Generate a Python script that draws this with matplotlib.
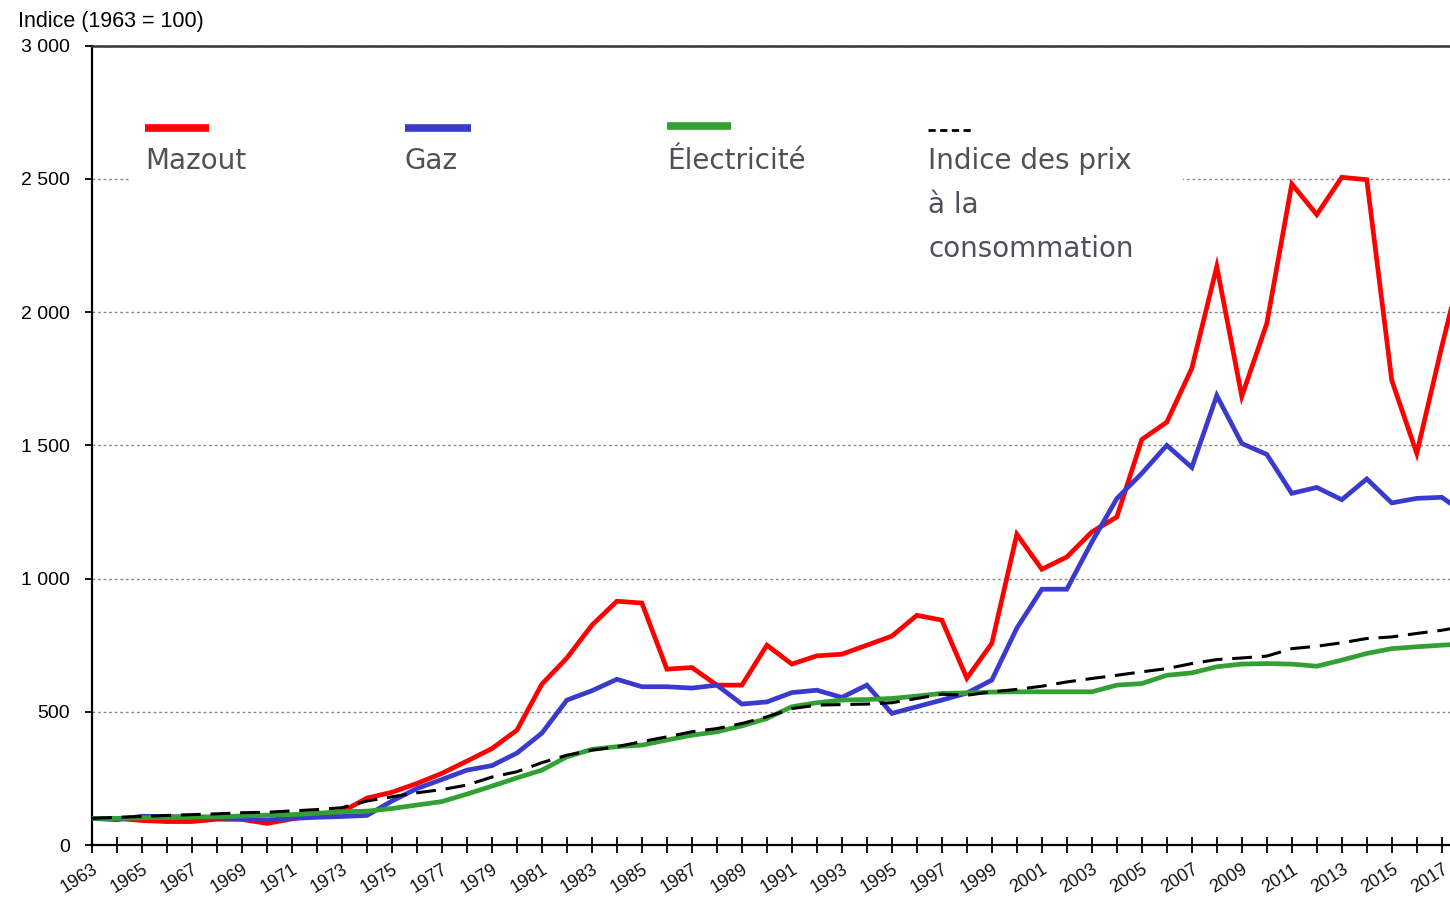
import matplotlib
matplotlib.use("Agg")
import matplotlib.pyplot as plt
from matplotlib.lines import Line2D
from matplotlib.patches import Rectangle

# ---------------- data ----------------
years = list(range(1963, 2019))

mazout = [100, 100, 92, 88, 88, 97, 96, 81, 98, 112, 125, 176, 198, 231, 269, 315, 362,
          431, 604, 702, 825, 915, 908, 660, 666, 600, 600, 750, 679, 710, 716, 750,
          784, 862, 844, 626, 757, 1166, 1035, 1081, 1175, 1231, 1522, 1587, 1789, 2171,
          1684, 1957, 2481, 2366, 2506, 2497, 1744, 1470, 1870, 2250]

gaz = [100, 95, 108, 106, 106, 102, 98, 94, 100, 104, 107, 111, 165, 212, 246, 281, 298,
       345, 420, 544, 579, 622, 594, 594, 589, 600, 529, 537, 572, 581, 554, 600,
       494, 519, 544, 570, 619, 814, 960, 960, 1137, 1300, 1395, 1500, 1417, 1687,
       1507, 1466, 1320, 1342, 1296, 1374, 1284, 1301, 1305, 1240]

electricite = [100, 100, 102, 104, 105, 106, 109, 112, 114, 119, 125, 127, 137, 150, 163,
               191, 221, 252, 281, 331, 359, 369, 375, 394, 412, 425, 447, 475, 519, 534,
               544, 546, 550, 559, 569, 571, 574, 575, 575, 575, 575, 600, 606, 637, 646,
               669, 679, 681, 679, 671, 694, 719, 737, 744, 750, 755]

ipc = [100, 104, 107, 111, 114, 117, 121, 123, 128, 133, 140, 165, 181, 196, 208, 225,
       255, 275, 309, 337, 356, 369, 388, 406, 425, 437, 456, 481, 512, 525, 527, 529,
       534, 550, 566, 562, 575, 584, 596, 612, 625, 637, 650, 662, 681, 696, 702, 709,
       737, 746, 759, 775, 781, 794, 806, 822]

tick_years = list(range(1963, 2018))
tick_labels = [str(y) if (y - 1963) % 2 == 0 else "" for y in tick_years]
y_ticks = [0, 500, 1000, 1500, 2000, 2500, 3000]
y_labels = ["0", "500", "1 000", "1 500", "2 000", "2 500", "3 000"]

series_names = ["Mazout", "Gaz", "Électricité", "Indice des prix\nà la\nconsommation"]
colors = ["#ff0000", "#3a3acc", "#33a033", "#000000"]

# ---------------- figure ----------------
W, H = 1450, 897
fig = plt.figure(figsize=(W / 100, H / 100), dpi=100)
ax = fig.add_axes([92 / W, (H - 845) / H, (W - 92) / W, (845 - 45.7) / H])

def fx(px):
    return px / W

def fy(py):
    return 1 - py / H

ax.plot(years, mazout, color=colors[0], lw=3.4, zorder=3, solid_joinstyle="miter")
ax.plot(years, gaz, color=colors[1], lw=3.4, zorder=4, solid_joinstyle="miter")
ax.plot(years, electricite, color=colors[2], lw=3.4, zorder=4.5)
ax.plot(years, ipc, color=colors[3], lw=2.2, zorder=5, dashes=(6.5, 3.2))

ax.set_xlim(1963, 1963 + (W - 92.3) / 24.99)
ax.set_ylim(0, 3000)

ax.set_xticks(tick_years)
ax.set_xticklabels(tick_labels, rotation=32, ha="right", rotation_mode="anchor",
                   fontsize=13, family="Liberation Sans", color="#111111")
ax.tick_params(axis="x", direction="inout", length=11, width=1.3, pad=6)

ax.set_yticks(y_ticks)
ax.set_yticklabels(y_labels, fontsize=14, family="Liberation Sans")
ax.tick_params(axis="y", direction="out", length=5, width=1.3, pad=11)

ax.set_axisbelow(True)
ax.yaxis.grid(True, color="#8a8a8a", lw=1.0, dashes=(2, 2))
ax.xaxis.grid(False)

for s in ["left", "bottom"]:
    ax.spines[s].set_linewidth(1.6)
    ax.spines[s].set_color("black")
ax.spines["top"].set_linewidth(1.8)
ax.spines["top"].set_color("#333333")
ax.spines["right"].set_visible(False)

# white box behind the legend
rect = Rectangle((fx(130), fy(275)), fx(1183) - fx(130), fy(95) - fy(275),
                 transform=fig.transFigure, facecolor="white", edgecolor="none", zorder=1)
ax.add_patch(rect)

# legend (manual, Excel style)
leg_x = [145, 405, 667, 928]
leg_w = [64, 66, 64, 45]
leg_y = [128, 128, 126, 130]
for i in range(3):
    fig.add_artist(Line2D([fx(leg_x[i]), fx(leg_x[i] + leg_w[i])], [fy(leg_y[i]), fy(leg_y[i])],
                          color=colors[i], lw=5.5, solid_capstyle="butt",
                          transform=fig.transFigure))
fig.add_artist(Line2D([fx(leg_x[3]), fx(leg_x[3] + leg_w[3])], [fy(leg_y[3]), fy(leg_y[3])],
                      color="black", lw=2.0, dashes=(2.6, 1.6), dash_capstyle="butt",
                      transform=fig.transFigure))

txt_kw = dict(fontsize=20, family="DejaVu Sans", color="#505058", va="center", ha="left")
for i in range(3):
    fig.text(fx(leg_x[i]), fy(161), series_names[i], **txt_kw)
for j, line in enumerate(series_names[3].split("\n")):
    fig.text(fx(leg_x[3]), fy(161 + 44 * j), line, **txt_kw)

fig.text(fx(18), fy(22), "Indice (1963 = 100)", fontsize=15.5, family="Liberation Sans",
         va="center", ha="left", color="black")

fig.savefig("out.png", dpi=100)
